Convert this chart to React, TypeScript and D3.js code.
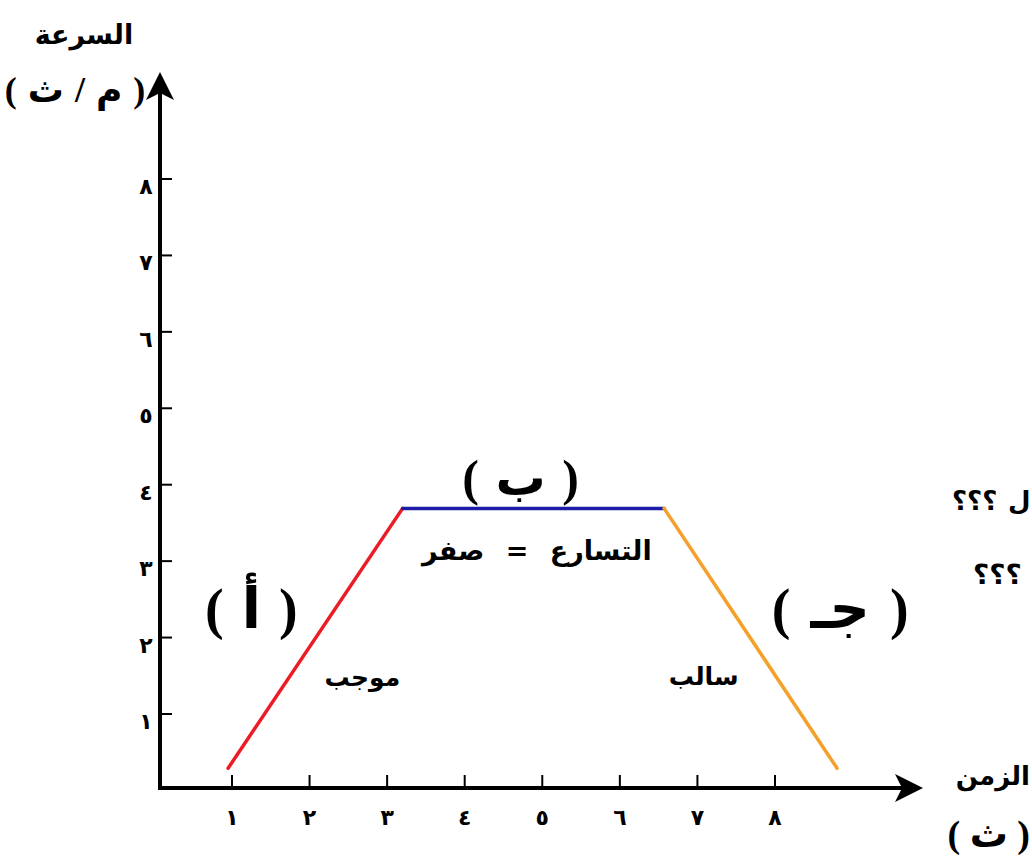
import React from 'react';
import * as d3 from 'd3';

// tick values and their Arabic-Indic labels
const xTicks = [1, 2, 3, 4, 5, 6, 7, 8];
const yTicks = [1, 2, 3, 4, 5, 6, 7, 8];
const tickLabels = ['١', '٢', '٣', '٤', '٥', '٦', '٧', '٨'];

// the three stages of the speed-time graph: [time, speed]
const stageA = [[0.95, 0.29], [3.2, 3.69]];
const stageB = [[3.2, 3.69], [6.57, 3.69]];
const stageC = [[6.57, 3.69], [8.8, 0.29]];

const stageColors = ['#ec1c24', '#1c1ca8', '#f3a12a'];
const stageNames = ['( أ )', '( ب )', '( جـ )'];
// label anchor per stage [time, speed]
const namePos = [[1.25, 2.12], [4.72, 3.86], [8.84, 2.12]];
const notes = ['موجب', 'التسارع = صفر', 'سالب'];
const notePos = [[2.68, 1.36], [4.93, 3.02], [7.08, 1.38]];

const W = 1032;
const H = 856;

const x = d3.scaleLinear().domain([0, 8]).range([154.4, 775]);
const y = d3.scaleLinear().domain([0, 8]).range([790.4, 179]);

const AXIS_X = 160;
const AXIS_Y = 788;

const line = d3
  .line<number[]>()
  .x((d) => x(d[0]))
  .y((d) => y(d[1]));

const boldFont = '"DejaVu Sans", sans-serif';
const parenFont = '"Liberation Serif", "DejaVu Sans", serif';

export default function App() {
  const stages = [stageA, stageB, stageC];
  const xEnd = 923;
  const yTop = 72;

  return (
    <svg
      width={W}
      height={H}
      style={{position: 'absolute', left: 0, top: 0, background: '#fff'}}
    >
      {/* axes */}
      <path
        d={`M${AXIS_X},${yTop + 10}V${AXIS_Y}H${xEnd - 10}`}
        fill="none"
        stroke="#000"
        strokeWidth={4}
        strokeLinejoin="miter"
      />
      <path
        d={`M${xEnd},${AXIS_Y}L${xEnd - 28},${AXIS_Y - 14}L${xEnd - 21},${AXIS_Y}L${xEnd - 28},${AXIS_Y + 14}Z`}
        fill="#000"
      />
      <path
        d={`M${AXIS_X},${yTop}L${AXIS_X - 14},${yTop + 28}L${AXIS_X},${yTop + 21}L${AXIS_X + 14},${yTop + 28}Z`}
        fill="#000"
      />

      {/* x ticks */}
      {xTicks.map((t, i) => (
        <g key={'x' + t}>
          <line x1={x(t)} x2={x(t)} y1={AXIS_Y} y2={AXIS_Y - 13} stroke="#000" strokeWidth={2} />
          <text
            x={x(t)}
            y={825}
            textAnchor="middle"
            fontFamily={boldFont}
            fontWeight="bold"
            fontSize={22}
          >
            {tickLabels[i]}
          </text>
        </g>
      ))}

      {/* y ticks */}
      {yTicks.map((t, i) => (
        <g key={'y' + t}>
          <line x1={AXIS_X} x2={AXIS_X + 12} y1={y(t)} y2={y(t)} stroke="#000" strokeWidth={2} />
          <text
            x={146}
            y={y(t) + 15}
            textAnchor="middle"
            fontFamily={boldFont}
            fontWeight="bold"
            fontSize={22}
          >
            {tickLabels[i]}
          </text>
        </g>
      ))}

      {/* stages */}
      {stages.map((s, i) => (
        <path
          key={'s' + i}
          d={line(s) || ''}
          fill="none"
          stroke={stageColors[i]}
          strokeWidth={3.5}
          strokeLinecap="round"
        />
      ))}

      {stageNames.map((n, i) => (
        <text
          key={'n' + i}
          x={x(namePos[i][0])}
          y={y(namePos[i][1])}
          textAnchor="middle"
          direction="rtl"
          fontFamily={parenFont}
          fontWeight="bold"
          fontSize={i === 1 ? 50 : 56}
          wordSpacing={i === 2 ? 6 : 4}
        >
          {n}
        </text>
      ))}

      {notes.map((n, i) => (
        <text
          key={'t' + i}
          x={x(notePos[i][0])}
          y={y(notePos[i][1])}
          textAnchor="middle"
          direction="rtl"
          fontFamily={boldFont}
          fontWeight="bold"
          fontSize={i === 1 ? 27 : 25}
          wordSpacing={i === 1 ? 12 : 0}
        >
          {n}
        </text>
      ))}

      {/* axis titles */}
      <text x={84} y={44} textAnchor="middle" direction="rtl" fontFamily={boldFont} fontWeight="bold" fontSize={27}>
        السرعة
      </text>
      <text x={75} y={102} textAnchor="middle" direction="rtl" fontFamily={parenFont} fontWeight="bold" fontSize={36} wordSpacing={2}>
        ( م / ث )
      </text>
      <text x={1030} y={785} textAnchor="start" direction="rtl" fontFamily={boldFont} fontWeight="bold" fontSize={26}>
        الزمن
      </text>
      <text x={1030} y={847} textAnchor="start" direction="rtl" fontFamily={parenFont} fontWeight="bold" fontSize={38}>
        ( ث )
      </text>

      {/* question fragments at the right edge */}
      <text x={952} y={510} textAnchor="end" direction="rtl" fontFamily={boldFont} fontWeight="bold" fontSize={26}>
        ؟؟؟
      </text>
      <text x={1008} y={510} textAnchor="start" direction="ltr" fontFamily={boldFont} fontWeight="bold" fontSize={26}>
        ل
      </text>
      <text x={973} y={584} textAnchor="end" direction="rtl" fontFamily={boldFont} fontWeight="bold" fontSize={28}>
        ؟؟؟
      </text>
    </svg>
  );
}
